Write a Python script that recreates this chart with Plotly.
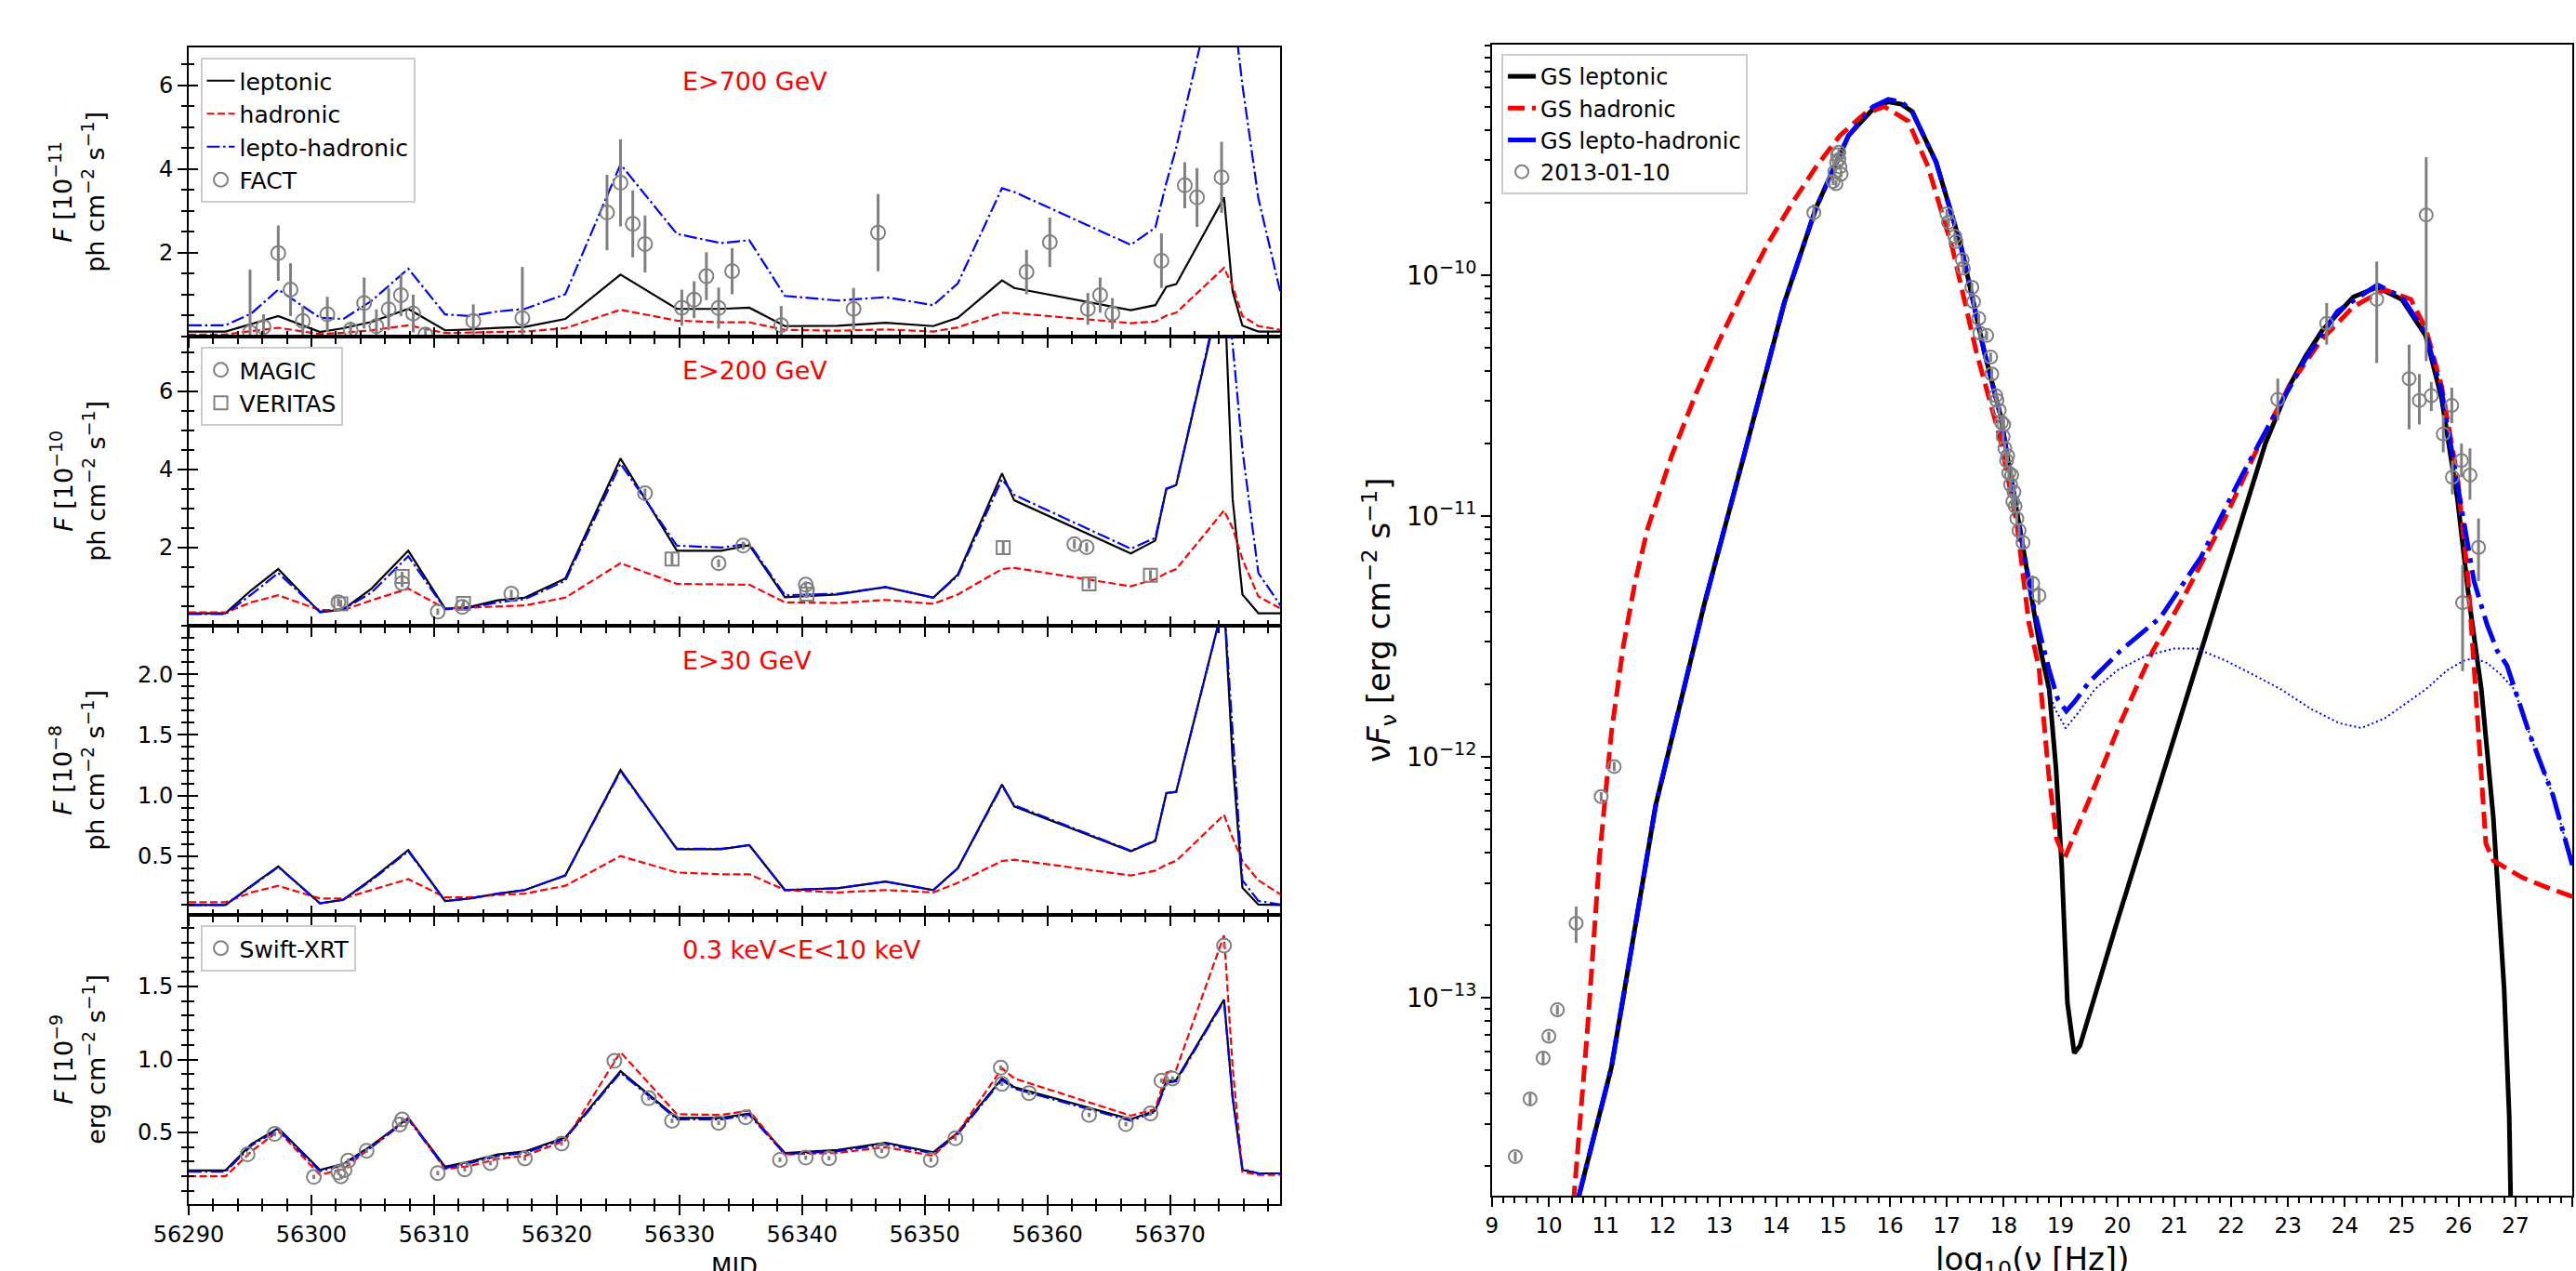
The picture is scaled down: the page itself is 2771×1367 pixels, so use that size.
import plotly.graph_objects as go

W, H = 2771, 1367
FONT = "DejaVu Sans"
GRAY = "#808080"

# ---------------- Light-curve models (MJD grid) ----------------
mjd_model = [56290.0, 56293.0, 56295.1, 56297.3, 56300.7, 56302.6, 56304.9, 56307.9, 56310.9,
             56312.9, 56315.2, 56317.4, 56320.7, 56325.2, 56329.8, 56333.4, 56335.7, 56338.6,
             56342.9, 56346.8, 56350.7, 56352.7, 56356.3, 56357.3, 56366.8, 56368.8, 56369.7,
             56370.5, 56374.4, 56375.1, 56375.9, 56377.2, 56379.0]

# E>700 GeV [1e-11 ph cm-2 s-1]
lep_700 = [0.12, 0.12, 0.30, 0.49, 0.11, 0.20, 0.35, 0.66, 0.15, 0.17, 0.21, 0.23, 0.42, 1.48, 0.66,
           0.66, 0.69, 0.25, 0.26, 0.33, 0.25, 0.45, 1.34, 1.16, 0.63, 0.75, 1.19, 1.25, 3.32, 1.08,
           0.26, 0.12, 0.12]
had_700 = [0.05, 0.05, 0.13, 0.21, 0.06, 0.09, 0.15, 0.27, 0.085, 0.09, 0.11, 0.12, 0.20, 0.64, 0.38,
           0.34, 0.34, 0.16, 0.14, 0.17, 0.12, 0.22, 0.57, 0.56, 0.32, 0.36, 0.50, 0.57, 1.64, 1.20,
           0.49, 0.25, 0.16]
lh_700 = [0.27, 0.27, 0.55, 1.12, 0.45, 0.42, 0.85, 1.62, 0.53, 0.49, 0.60, 0.66, 1.01, 4.11, 2.45,
          2.23, 2.30, 0.97, 0.86, 0.94, 0.75, 1.27, 3.54, 3.45, 2.19, 2.60, 3.67, 4.50, 9.40, 8.00,
          6.00, 3.30, 1.05]

# E>200 GeV [1e-10 ph cm-2 s-1]
lep_200 = [0.32, 0.32, 0.91, 1.45, 0.34, 0.42, 0.95, 1.92, 0.44, 0.48, 0.65, 0.72, 1.21, 4.28, 1.92,
           1.92, 2.06, 0.73, 0.80, 0.99, 0.72, 1.31, 3.90, 3.21, 1.85, 2.18, 3.51, 3.60, 8.90, 3.25,
           0.80, 0.32, 0.32]
had_200 = [0.34, 0.34, 0.60, 0.78, 0.40, 0.40, 0.65, 0.95, 0.44, 0.47, 0.50, 0.52, 0.72, 1.60, 1.07,
           1.05, 1.05, 0.60, 0.58, 0.66, 0.56, 0.80, 1.45, 1.48, 1.01, 1.19, 1.35, 1.45, 2.95, 2.50,
           1.70, 0.75, 0.44]
lh_200 = [0.30, 0.30, 0.80, 1.35, 0.36, 0.42, 0.85, 1.78, 0.42, 0.46, 0.60, 0.68, 1.15, 4.15, 2.05,
          2.00, 2.10, 0.78, 0.82, 0.99, 0.72, 1.28, 3.75, 3.35, 1.97, 2.25, 3.50, 3.60, 9.00, 7.20,
          4.50, 1.35, 0.52]

# E>30 GeV [1e-8 ph cm-2 s-1]
lep_30 = [0.097, 0.097, 0.255, 0.415, 0.11, 0.14, 0.31, 0.55, 0.13, 0.15, 0.19, 0.22, 0.34, 1.21,
          0.556, 0.556, 0.59, 0.22, 0.235, 0.29, 0.22, 0.40, 1.09, 0.91, 0.54, 0.625, 1.02, 1.03,
          2.60, 1.30, 0.24, 0.10, 0.097]
had_30 = [0.12, 0.12, 0.20, 0.255, 0.15, 0.15, 0.22, 0.31, 0.16, 0.16, 0.18, 0.19, 0.255, 0.50, 0.365,
          0.35, 0.35, 0.22, 0.20, 0.22, 0.20, 0.28, 0.46, 0.47, 0.34, 0.38, 0.43, 0.46, 0.84, 0.65,
          0.46, 0.30, 0.185]
lh_30 = [0.097, 0.097, 0.25, 0.41, 0.11, 0.14, 0.30, 0.54, 0.13, 0.15, 0.19, 0.22, 0.34, 1.20,
         0.56, 0.56, 0.59, 0.22, 0.235, 0.29, 0.22, 0.40, 1.08, 0.92, 0.545, 0.63, 1.02, 1.03,
         2.60, 1.50, 0.30, 0.13, 0.10]

# 0.3-10 keV [1e-9 erg cm-2 s-1]
lep_x = [0.24, 0.24, 0.42, 0.53, 0.243, 0.285, 0.41, 0.60, 0.265, 0.30, 0.35, 0.37, 0.466, 0.92,
         0.60, 0.60, 0.63, 0.36, 0.38, 0.43, 0.365, 0.50, 0.87, 0.81, 0.59, 0.65, 0.85, 0.86, 1.41,
         0.74, 0.243, 0.22, 0.22]
had_x = [0.20, 0.20, 0.37, 0.51, 0.21, 0.25, 0.40, 0.60, 0.25, 0.27, 0.32, 0.34, 0.445, 1.05, 0.625,
         0.62, 0.65, 0.35, 0.36, 0.40, 0.34, 0.50, 0.94, 0.87, 0.615, 0.66, 0.91, 0.93, 1.85, 0.95,
         0.23, 0.21, 0.21]
lh_x = [0.232, 0.232, 0.41, 0.52, 0.235, 0.277, 0.40, 0.59, 0.257, 0.29, 0.34, 0.36, 0.457, 0.91,
        0.59, 0.59, 0.62, 0.352, 0.372, 0.42, 0.357, 0.49, 0.86, 0.80, 0.58, 0.64, 0.84, 0.85, 1.40,
        0.74, 0.25, 0.22, 0.22]

# ---------------- Light-curve data ----------------
fact_mjd = [56295.0, 56296.1, 56297.3, 56298.3, 56299.3, 56301.3, 56303.2, 56304.3, 56305.3, 56306.3,
            56307.3, 56308.3, 56309.3, 56313.2, 56317.2, 56324.1, 56325.2, 56326.2, 56327.2, 56330.2,
            56331.2, 56332.2, 56333.2, 56334.3, 56338.3, 56344.2, 56346.2, 56358.3, 56360.2, 56363.3,
            56364.3, 56365.3, 56369.3, 56371.2, 56372.2, 56374.2]
fact_flux = [0.10, 0.23, 1.99, 1.12, 0.37, 0.53, 0.16, 0.80, 0.25, 0.65, 0.99, 0.55, 0.05, 0.37, 0.44,
             2.96, 3.67, 2.69, 2.21, 0.69, 0.88, 1.44, 0.68, 1.56, 0.27, 0.66, 2.48, 1.54, 2.25, 0.66,
             0.99, 0.55, 1.81, 3.61, 3.32, 3.80]
fact_err = [1.50, 0.30, 0.66, 0.63, 0.35, 0.42, 0.20, 0.61, 0.40, 0.50, 0.50, 0.45, 0.15, 0.40, 1.22,
            0.90, 1.04, 0.80, 0.68, 0.43, 0.44, 0.57, 0.49, 0.55, 0.46, 0.50, 0.92, 0.53, 0.59, 0.38,
            0.42, 0.37, 0.65, 0.55, 0.70, 0.85]

magic_mjd = [56302.2, 56307.4, 56310.3, 56312.3, 56316.3, 56327.2, 56333.2, 56335.2, 56340.3, 56340.4,
             56362.2, 56363.2]
magic_flux = [0.60, 1.09, 0.36, 0.48, 0.82, 3.39, 1.60, 2.05, 1.05, 0.92, 2.09, 2.01]
magic_err = [0.10, 0.10, 0.08, 0.08, 0.10, 0.12, 0.10, 0.10, 0.08, 0.08, 0.12, 0.12]

veritas_mjd = [56302.4, 56307.4, 56312.4, 56329.4, 56340.4, 56356.4, 56363.4, 56368.4]
veritas_flux = [0.56, 1.26, 0.57, 1.71, 0.81, 2.00, 1.07, 1.29]
veritas_err = [0.10, 0.12, 0.10, 0.15, 0.10, 0.15, 0.12, 0.13]

xrt_mjd = [56294.8, 56297.0, 56300.2, 56302.2, 56302.4, 56302.7, 56303.0, 56304.5, 56307.2, 56307.4,
           56310.3, 56312.5, 56314.6, 56317.4, 56320.4, 56324.7, 56327.5, 56329.4, 56333.2, 56335.4,
           56338.2, 56340.3, 56342.2, 56346.5, 56350.5, 56352.5, 56356.2, 56356.3, 56358.5, 56363.4,
           56366.4, 56368.4, 56369.3, 56370.2, 56374.4]
xrt_flux = [0.35, 0.49, 0.196, 0.226, 0.20, 0.243, 0.307, 0.375, 0.555, 0.589, 0.222, 0.247, 0.29,
            0.322, 0.424, 0.99, 0.735, 0.58, 0.566, 0.604, 0.313, 0.328, 0.324, 0.375, 0.313, 0.46,
            0.944, 0.833, 0.77, 0.62, 0.557, 0.63, 0.855, 0.87, 1.78]
xrt_err = [0.015] * len(xrt_flux)

# ---------------- SED (2013-01-10), log10(nu [Hz]) and log10(nuFnu [erg cm-2 s-1]) ----------------
sed_lep_lognu = [10.50, 11.10, 11.88, 12.73, 13.43, 14.14, 14.70, 15.27, 15.70, 15.97, 16.20, 16.39,
                 16.81, 17.24, 17.66, 17.94, 18.23, 18.51, 18.65, 18.80, 18.92, 19.02, 19.12, 19.24,
                 19.34, 20.00, 21.00, 21.60, 22.00, 22.30, 22.60, 23.00, 23.30, 23.60, 24.15, 24.57,
                 25.00, 25.42, 25.70, 25.98, 26.19, 26.40, 26.61, 26.80, 26.89, 26.95]
sed_lep_lognuFnu = [-13.85, -13.29, -12.20, -11.37, -10.75, -10.115, -9.72, -9.42, -9.31, -9.28, -9.29,
                    -9.32, -9.53, -9.87, -10.32, -10.58, -10.98, -11.36, -11.56, -11.72, -12.05, -12.45,
                    -13.02, -13.23, -13.20, -12.68, -11.92, -11.46, -11.15, -10.92, -10.70, -10.47,
                    -10.34, -10.23, -10.09, -10.05, -10.10, -10.25, -10.51, -10.93, -11.36, -11.72,
                    -12.25, -12.96, -13.49, -14.30]

sed_had_lognu = [10.40, 10.68, 10.89, 11.10, 11.31, 11.52, 11.74, 12.16, 12.59, 13.00, 13.43, 13.85,
                 14.28, 14.70, 15.12, 15.55, 15.90, 16.32, 16.67, 17.10, 17.52, 17.94, 18.23, 18.44,
                 18.62, 18.79, 18.93, 19.07, 19.50, 20.05, 20.62, 21.18, 21.89, 22.46, 23.02, 23.58,
                 24.15, 24.70, 25.16, 25.42, 25.70, 25.98, 26.17, 26.34, 26.48, 26.61, 27.11, 27.53, 28.00]
sed_had_lognuFnu = [-13.95, -13.13, -12.42, -11.90, -11.54, -11.27, -11.05, -10.75, -10.49, -10.27,
                    -10.06, -9.87, -9.70, -9.55, -9.42, -9.33, -9.30, -9.36, -9.55, -9.89, -10.32, -10.68,
                    -11.03, -11.44, -11.63, -12.07, -12.34, -12.42, -12.18, -11.86, -11.56, -11.33,
                    -11.01, -10.72, -10.46, -10.27, -10.13, -10.06, -10.10, -10.22, -10.46, -10.84,
                    -11.27, -11.90, -12.36, -12.43, -12.50, -12.54, -12.58]

sed_lh_lognu = [10.50, 11.10, 11.88, 12.73, 13.43, 14.14, 14.70, 15.27, 15.70, 15.97, 16.20, 16.39,
                16.81, 17.24, 17.66, 17.94, 18.23, 18.51, 18.65, 18.80, 18.95, 19.10, 19.25, 19.50,
                20.05, 20.76, 21.47, 22.17, 22.74, 23.30, 23.87, 24.57, 25.00, 25.42, 25.70, 25.98,
                26.27, 26.50, 26.68, 26.85, 27.24, 27.66, 28.00]
sed_lh_lognuFnu = [-13.85, -13.29, -12.20, -11.37, -10.75, -10.115, -9.72, -9.42, -9.30, -9.27, -9.28,
                   -9.32, -9.53, -9.87, -10.32, -10.58, -10.98, -11.36, -11.50, -11.64, -11.76, -11.81,
                   -11.77, -11.69, -11.56, -11.42, -11.17, -10.84, -10.59, -10.35, -10.15, -10.04,
                   -10.09, -10.24, -10.48, -10.88, -11.27, -11.45, -11.56, -11.62, -11.90, -12.16, -12.45]

sed_comp_lognu = [18.75, 18.90, 19.09, 19.30, 19.60, 20.00, 20.50, 21.00, 21.39, 21.90, 22.40, 22.88,
                  23.40, 23.90, 24.29, 24.70, 25.00, 25.42, 25.80, 26.10, 26.27, 26.50, 26.75, 26.98,
                  27.24, 27.66, 28.00]
sed_comp_lognuFnu = [-11.70, -11.80, -11.88, -11.82, -11.72, -11.64, -11.58, -11.55, -11.55, -11.60,
                     -11.66, -11.72, -11.80, -11.86, -11.88, -11.84, -11.79, -11.72, -11.64, -11.60,
                     -11.59, -11.61, -11.66, -11.72, -11.90, -12.16, -12.45]

obs_lognu = [9.41, 9.67, 9.90, 10.00, 10.15, 10.48, 10.92, 11.15,
             14.66, 15.00, 15.03, 15.05, 15.06, 15.08, 15.10, 15.10, 15.12, 15.14,
             17.00, 17.03, 17.14, 17.16, 17.27, 17.29, 17.44, 17.47, 17.56, 17.58, 17.70, 17.77,
             17.79, 17.86, 17.88, 17.92, 17.96, 17.99, 18.00, 18.02, 18.05, 18.07, 18.09, 18.12,
             18.14, 18.16, 18.18, 18.20, 18.23, 18.27, 18.34, 18.51, 18.62,
             22.82, 23.68, 24.56, 25.13, 25.31, 25.43, 25.52, 25.73, 25.88, 25.89, 26.05, 26.07,
             26.20, 26.35]
obs_nuFnu = [2.19e-14, 3.80e-14, 5.62e-14, 6.92e-14, 8.91e-14, 2.04e-13, 6.84e-13, 9.12e-13,
             1.82e-10, 2.45e-10, 2.69e-10, 2.40e-10, 2.95e-10, 3.16e-10, 3.02e-10, 3.24e-10, 2.82e-10,
             2.63e-10,
             1.80e-10, 1.66e-10, 1.45e-10, 1.38e-10, 1.16e-10, 1.07e-10, 8.91e-11, 7.76e-11, 6.61e-11,
             5.75e-11, 5.62e-11, 4.57e-11, 3.89e-11, 3.16e-11, 3.02e-11, 2.75e-11, 2.45e-11, 2.14e-11,
             2.40e-11, 1.91e-11, 1.70e-11, 1.78e-11, 1.51e-11, 1.35e-11, 1.48e-11, 1.15e-11, 1.26e-11,
             1.10e-11, 9.77e-12, 8.71e-12, 7.76e-12, 5.25e-12, 4.68e-12,
             3.05e-11, 6.31e-11, 7.94e-11, 3.72e-11, 3.02e-11, 1.78e-10, 3.16e-11, 2.19e-11, 2.88e-11,
             1.45e-11, 1.70e-11, 4.37e-12, 1.48e-11, 7.41e-12]
obs_err_up = [1e-15, 2e-15, 3e-15, 3e-15, 4e-15, 3.5e-14, 3e-14, 4e-14,
              1.5e-11, 8e-12, 8e-12, 8e-12, 8e-12, 8e-12, 8e-12, 8e-12, 8e-12, 8e-12,
              8e-12, 7e-12, 6e-12, 6e-12, 5e-12, 5e-12, 4e-12, 3.5e-12, 3e-12, 2.5e-12, 2.5e-12,
              2e-12, 2e-12, 1.5e-12, 1.5e-12, 1.3e-12, 1.2e-12, 1e-12, 1.2e-12, 1e-12, 9e-13, 9e-13,
              8e-13, 7e-13, 8e-13, 6e-13, 7e-13, 6e-13, 5e-13, 5e-13, 5e-13, 4e-13, 4e-13,
              6.7e-12, 1.36e-11, 3.46e-11, 1.43e-11, 8.7e-12, 1.31e-10, 4.4e-12, 4.4e-12, 5.3e-12,
              2.5e-12, 3.0e-12, 1.9e-12, 4.3e-12, 2.36e-12]
obs_err_dn = [1e-15, 2e-15, 3e-15, 3e-15, 4e-15, 3.5e-14, 3e-14, 4e-14,
              1.5e-11, 8e-12, 8e-12, 8e-12, 8e-12, 8e-12, 8e-12, 8e-12, 8e-12, 8e-12,
              8e-12, 7e-12, 6e-12, 6e-12, 5e-12, 5e-12, 4e-12, 3.5e-12, 3e-12, 2.5e-12, 2.5e-12,
              2e-12, 2e-12, 1.5e-12, 1.5e-12, 1.3e-12, 1.2e-12, 1e-12, 1.2e-12, 1e-12, 9e-13, 9e-13,
              8e-13, 7e-13, 8e-13, 6e-13, 7e-13, 6e-13, 5e-13, 5e-13, 5e-13, 4e-13, 4e-13,
              5.5e-12, 1.16e-11, 3.62e-11, 1.43e-11, 6.2e-12, 1.34e-10, 4.3e-12, 3.5e-12, 4.5e-12,
              2.2e-12, 2.5e-12, 2.1e-12, 3.1e-12, 2.04e-12]

# ---------------- Figure ----------------
fig = go.Figure()

LW = 2.2
RED_DASH = "8px,3.5px"
BLUE_DASHDOT = "14px,3.5px,2.5px,3.5px"

panels = [
    (lep_700, had_700, lh_700),
    (lep_200, had_200, lh_200),
    (lep_30, had_30, lh_30),
    (lep_x, had_x, lh_x),
]
for i, (lep, had, lh) in enumerate(panels, start=1):
    show = (i == 1)
    fig.add_trace(go.Scatter(x=mjd_model, y=lep, mode="lines", name="leptonic",
                             line=dict(color="black", width=LW), xaxis=f"x{i}", yaxis=f"y{i}",
                             showlegend=show, legend="legend"))
    fig.add_trace(go.Scatter(x=mjd_model, y=had, mode="lines", name="hadronic",
                             line=dict(color="red", width=LW, dash=RED_DASH), xaxis=f"x{i}",
                             yaxis=f"y{i}", showlegend=show, legend="legend"))
    fig.add_trace(go.Scatter(x=mjd_model, y=lh, mode="lines", name="lepto-hadronic",
                             line=dict(color="blue", width=LW, dash=BLUE_DASHDOT), xaxis=f"x{i}",
                             yaxis=f"y{i}", showlegend=show, legend="legend"))


def err_trace(x, y, e, name, xa, ya, legend, symbol="circle-open", size=15, showlegend=True,
              e_minus=None):
    ey = dict(type="data", array=e, visible=True, color=GRAY, thickness=3, width=0)
    if e_minus is not None:
        ey["symmetric"] = False
        ey["arrayminus"] = e_minus
    return go.Scatter(x=x, y=y, mode="markers", name=name, xaxis=xa, yaxis=ya,
                      marker=dict(symbol=symbol, size=size, color=GRAY,
                                  line=dict(color=GRAY, width=2)),
                      error_y=ey, legend=legend, showlegend=showlegend)


fig.add_trace(err_trace(fact_mjd, fact_flux, fact_err, "FACT", "x1", "y1", "legend"))
fig.add_trace(err_trace(magic_mjd, magic_flux, magic_err, "MAGIC", "x2", "y2", "legend2"))
fig.add_trace(err_trace(veritas_mjd, veritas_flux, veritas_err, "VERITAS", "x2", "y2", "legend2",
                        symbol="square-open", size=14))
fig.add_trace(err_trace(xrt_mjd, xrt_flux, xrt_err, "Swift-XRT", "x4", "y4", "legend3"))

# SED
RLW = 5
fig.add_trace(go.Scatter(x=sed_lep_lognu, y=[10 ** v for v in sed_lep_lognuFnu], mode="lines",
                         name="GS leptonic", line=dict(color="black", width=RLW),
                         xaxis="x5", yaxis="y5", legend="legend4"))
fig.add_trace(go.Scatter(x=sed_had_lognu, y=[10 ** v for v in sed_had_lognuFnu], mode="lines",
                         name="GS hadronic", line=dict(color="red", width=RLW, dash="18px,8px"),
                         xaxis="x5", yaxis="y5", legend="legend4"))
fig.add_trace(go.Scatter(x=sed_lh_lognu, y=[10 ** v for v in sed_lh_lognuFnu], mode="lines",
                         name="GS lepto-hadronic",
                         line=dict(color="blue", width=RLW, dash="30px,8px,5px,8px"),
                         xaxis="x5", yaxis="y5", legend="legend4"))
fig.add_trace(go.Scatter(x=sed_comp_lognu, y=[10 ** v for v in sed_comp_lognuFnu], mode="lines",
                         name="component", line=dict(color="blue", width=2, dash="2px,3px"),
                         xaxis="x5", yaxis="y5", showlegend=False))
fig.add_trace(err_trace(obs_lognu, obs_nuFnu, obs_err_up, "2013-01-10", "x5", "y5", "legend4",
                        size=14, e_minus=obs_err_dn))

# empty helper traces so the overlaid axes (inner half of the in-out ticks) get drawn
for i in range(1, 5):
    fig.add_trace(go.Scatter(x=[], y=[], xaxis=f"x{i+5}", yaxis=f"y{i+5}", showlegend=False,
                             hoverinfo="skip"))

# ---------------- Layout ----------------
LX0, LX1 = 167.3, 1358.0
bounds = [(51, 362), (362, 673), (673, 984), (984, 1295)]
yranges = [[0, 6.9], [0, 7.4], [0.015, 2.4], [0.01, 1.99]]
ytickvals = [[2, 4, 6], [2, 4, 6], [0.5, 1.0, 1.5, 2.0], [0.5, 1.0, 1.5]]
yticktext = [["2", "4", "6"], ["2", "4", "6"], ["0.5", "1.0", "1.5", "2.0"], ["0.5", "1.0", "1.5"]]
yminor = [0.5, 0.5, 0.1, 0.1]
tickfont = dict(family=FONT, size=24, color="black")

layout = dict(width=W, height=H, margin=dict(l=0, r=0, t=0, b=0), paper_bgcolor="white",
              plot_bgcolor="white", font=dict(family=FONT, color="black"), showlegend=True)

for i in range(1, 5):
    y0, y1 = bounds[i - 1]
    dom = [1 - y1 / H, 1 - y0 / H]
    xcommon = dict(range=[56290, 56379], tick0=56290, dtick=10, tickformat="d", showgrid=False,
                   zeroline=False)
    layout[f"xaxis{i}"] = dict(domain=[LX0 / W, LX1 / W], anchor=f"y{i}", ticks="outside",
                               ticklen=10, tickwidth=2, tickcolor="black",
                               minor=dict(dtick=2, tick0=56290, ticks="outside", ticklen=6,
                                          tickwidth=1.5, tickcolor="black"),
                               showticklabels=(i == 4), tickfont=tickfont, showline=True,
                               mirror=True, linecolor="black", linewidth=2, **xcommon)
    layout[f"xaxis{i+5}"] = dict(overlaying="x" if i == 1 else f"x{i}", anchor=f"y{i+5}",
                                 ticks="inside", ticklen=10, tickwidth=2, tickcolor="black",
                                 minor=dict(dtick=2, tick0=56290, ticks="inside", ticklen=6,
                                            tickwidth=1.5, tickcolor="black"),
                                 showticklabels=False, showline=False, **xcommon)
    ycommon = dict(range=yranges[i - 1], tickvals=ytickvals[i - 1], showgrid=False, zeroline=False)
    layout[f"yaxis{i}"] = dict(domain=dom, anchor=f"x{i}", ticks="outside", ticklen=10,
                               tickwidth=2, tickcolor="black", ticktext=yticktext[i - 1],
                               minor=dict(dtick=yminor[i - 1], tick0=0, ticks="outside",
                                          ticklen=6, tickwidth=1.5, tickcolor="black"),
                               tickfont=tickfont, showline=True, mirror=True, linecolor="black",
                               linewidth=2, **ycommon)
    layout[f"yaxis{i+5}"] = dict(overlaying="y" if i == 1 else f"y{i}", anchor=f"x{i+5}",
                                 ticks="inside", ticklen=10, tickwidth=2, tickcolor="black",
                                 minor=dict(dtick=yminor[i - 1], tick0=0, ticks="inside",
                                            ticklen=6, tickwidth=1.5, tickcolor="black"),
                                 showticklabels=False, showline=False, **ycommon)

RX0, RX1 = 1588.7, 2767.0
RY0, RY1 = 48.0, 1286.0
layout["xaxis5"] = dict(domain=[RX0 / W, RX1 / W], anchor="y5", range=[9, 28], tick0=9, dtick=1,
                        ticks="outside", ticklen=10, tickwidth=2, tickcolor="black",
                        minor=dict(dtick=0.2, tick0=9, ticks="outside", ticklen=6, tickwidth=1.5,
                                   tickcolor="black"),
                        tickfont=dict(family=FONT, size=23, color="black"), showline=True,
                        mirror=True, linecolor="black", linewidth=2, showgrid=False,
                        zeroline=False)
layout["yaxis5"] = dict(domain=[1 - RY1 / H, 1 - RY0 / H], anchor="x5", type="log",
                        range=[-13.822, -9.0425], dtick=1, exponentformat="power",
                        showexponent="all", ticks="outside", ticklen=10, tickwidth=2,
                        tickcolor="black",
                        minor=dict(dtick="D1", ticks="outside", ticklen=6, tickwidth=1.5,
                                   tickcolor="black"),
                        tickfont=dict(family=FONT, size=22, color="black"), showline=True,
                        mirror=True, linecolor="black", linewidth=2, showgrid=False,
                        zeroline=False)

leg_common = dict(xanchor="left", yanchor="top", bgcolor="rgba(255,255,255,0.85)",
                  bordercolor="#cccccc", borderwidth=2, traceorder="normal")
layout["legend"] = dict(x=180 / W, y=1 - 62 / H, font=dict(family=FONT, size=25), **leg_common)
layout["legend2"] = dict(x=180 / W, y=1 - 373 / H, font=dict(family=FONT, size=25), **leg_common)
layout["legend3"] = dict(x=180 / W, y=1 - 995 / H, font=dict(family=FONT, size=25), **leg_common)
layout["legend4"] = dict(x=1599 / W, y=1 - 58 / H, font=dict(family=FONT, size=24), **leg_common)

annotations = []
labels = ["E&gt;700 GeV", "E&gt;200 GeV", "E&gt;30 GeV", "0.3 keV&lt;E&lt;10 keV"]
label_y = [87, 398, 710, 1022]
for t, yy in zip(labels, label_y):
    annotations.append(dict(text=t, x=704 / W, y=1 - yy / H, xref="paper", yref="paper",
                            xanchor="left", yanchor="middle", showarrow=False,
                            font=dict(family=FONT, size=27, color="red")))

ytitles = [
    "<i>F</i> [10<sup>−11</sup><br>ph cm<sup>−2</sup> s<sup>−1</sup>]",
    "<i>F</i> [10<sup>−10</sup><br>ph cm<sup>−2</sup> s<sup>−1</sup>]",
    "<i>F</i> [10<sup>−8</sup><br>ph cm<sup>−2</sup> s<sup>−1</sup>]",
    "<i>F</i> [10<sup>−9</sup><br>erg cm<sup>−2</sup> s<sup>−1</sup>]",
]
for t, (y0, y1) in zip(ytitles, bounds):
    annotations.append(dict(text=t, x=46 / W, y=1 - (y0 + y1) / 2 / H, xref="paper", yref="paper",
                            xanchor="center", yanchor="middle", textangle=-90, showarrow=False,
                            font=dict(family=FONT, size=27, color="black")))

annotations.append(dict(text="MJD", x=(LX0 + LX1) / 2 / W, y=1 - 1346 / H, xref="paper",
                        yref="paper", xanchor="center", yanchor="top", showarrow=False,
                        font=dict(family=FONT, size=26, color="black")))
annotations.append(dict(text="log<sub>10</sub>(ν [Hz])", x=(RX0 + RX1) / 2 / W, y=1 - 1332 / H,
                        xref="paper", yref="paper", xanchor="center", yanchor="top",
                        showarrow=False, font=dict(family=FONT, size=34, color="black")))
annotations.append(dict(text="ν<i>F</i><sub>ν</sub> [erg cm<sup>−2</sup> s<sup>−1</sup>]",
                        x=1466 / W, y=1 - (RY0 + RY1) / 2 / H, xref="paper", yref="paper",
                        xanchor="center", yanchor="middle", textangle=-90, showarrow=False,
                        font=dict(family=FONT, size=34, color="black")))
layout["annotations"] = annotations

fig.update_layout(**layout)
fig.write_html("out.html", config={"displayModeBar": False},
               post_script="document.body.style.margin='0';")
